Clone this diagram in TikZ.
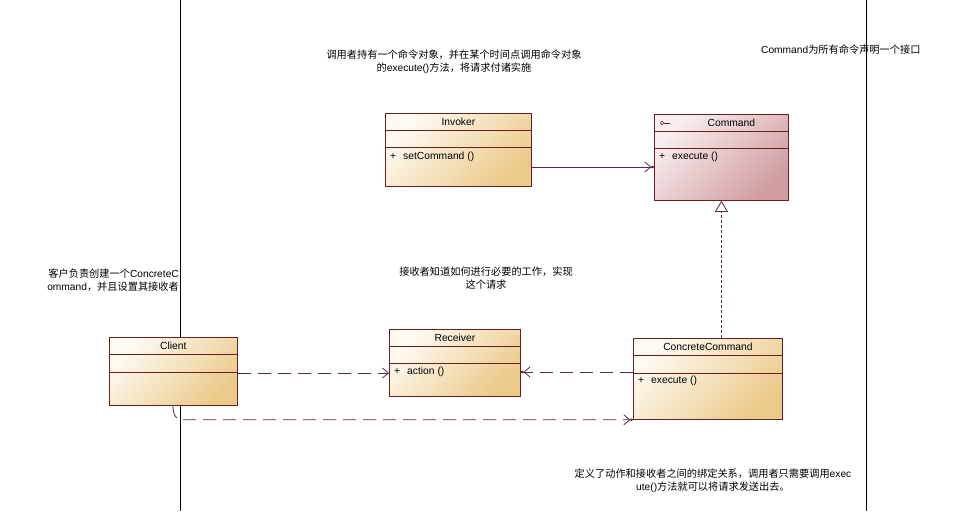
\documentclass[tikz,border=0pt]{standalone}
\usepackage{fontspec}
\setmainfont{Liberation Sans}
\newfontfamily\cjk{Noto Sans CJK SC}
\usepackage{tikz}
\usetikzlibrary{arrows.meta}
\usetikzlibrary{calc}
\usetikzlibrary{positioning}

\definecolor{umlborder}{HTML}{6A1E1E}
\definecolor{umllink}{HTML}{5E2750}
\definecolor{creamlight}{HTML}{FEFAF2}
\definecolor{creamdark}{HTML}{EBC989}
\definecolor{pinklight}{HTML}{F8EEEF}
\definecolor{pinkdark}{HTML}{D19DA1}

\begin{document}
\begin{tikzpicture}[x=1pt, y=-1pt, cls/.style={rectangle, draw=umlborder, line width=0.8pt, anchor=north west, inner sep=0pt, top color=creamlight, bottom color=creamdark, shading angle=45}, iface/.style={cls, top color=pinklight, bottom color=pinkdark, shading angle=45}, part/.style={draw=umlborder, line width=0.8pt}, title/.style={font=\fontsize{10.3}{12}\selectfont, inner sep=0pt}, member/.style={font=\fontsize{10.3}{12}\selectfont, inner sep=0pt, anchor=west}, note/.style={font=\fontsize{10.2}{13}\selectfont, inner sep=0pt, align=center}, link/.style={draw=umllink, line width=0.8pt}, assoc/.style={link, -{Straight Barb[length=6pt, width=10pt] Circle[length=2.6pt]}}, dep/.style={assoc, dash pattern=on 13pt off 7pt}, depopen/.style={link, dash pattern=on 13pt off 7pt, -{Straight Barb[length=6pt, width=10pt]}}, realize/.style={link, dash pattern=on 3pt off 2pt, -{Triangle[open, length=11pt, width=13pt, fill=white]}}, lane/.style={line width=0.8pt}]
\useasboundingbox (0,0) rectangle (955,511);
\draw [lane] (180,0) -- (180,511);
\draw [lane] (866,0) -- (866,511);
% classes
\node [cls, minimum width=146pt, minimum height=73pt] (invoker) at (385,113) {};
\node [title] at ($(invoker.north)+(0,9)$) {Invoker};
\draw [part] ($(invoker.north west)+(0,17)$) -- ($(invoker.north east)+(0,17)$);
\draw [part] ($(invoker.north west)+(0,34)$) -- ($(invoker.north east)+(0,34)$);
\node [member] at ($(invoker.north west)+(5,44)$) {+\hspace{7pt}setCommand ()};
\node [iface, minimum width=134pt, minimum height=86pt] (command) at (654,114) {};
\node [title] at ($(command.north)+(10,9)$) {Command};
\draw [part, line width=0.6pt] ($(command.north west)+(8,9)$) circle (1.8pt);
\draw [part, line width=0.6pt] ($(command.north west)+(9.8,9)$) -- ($(command.north west)+(16,9)$);
\draw [part] ($(command.north west)+(0,17)$) -- ($(command.north east)+(0,17)$);
\draw [part] ($(command.north west)+(0,34)$) -- ($(command.north east)+(0,34)$);
\node [member] at ($(command.north west)+(5,43)$) {+\hspace{7pt}execute ()};
\node [cls, minimum width=131pt, minimum height=67pt] (receiver) at (389,329) {};
\node [title] at ($(receiver.north)+(0,9)$) {Receiver};
\draw [part] ($(receiver.north west)+(0,17)$) -- ($(receiver.north east)+(0,17)$);
\draw [part] ($(receiver.north west)+(0,34)$) -- ($(receiver.north east)+(0,34)$);
\node [member] at ($(receiver.north west)+(5,43)$) {+\hspace{7pt}action ()};
\node [cls, minimum width=149pt, minimum height=81pt] (concrete) at (633,338) {};
\node [title] at ($(concrete.north)+(0,9)$) {ConcreteCommand};
\draw [part] ($(concrete.north west)+(0,17)$) -- ($(concrete.north east)+(0,17)$);
\draw [part] ($(concrete.north west)+(0,35)$) -- ($(concrete.north east)+(0,35)$);
\node [member] at ($(concrete.north west)+(5,43)$) {+\hspace{7pt}execute ()};
\node [cls, minimum width=128pt, minimum height=68pt] (client) at (109,337) {};
\node [title] at ($(client.north)+(0,9)$) {Client};
\draw [part] ($(client.north west)+(0,17)$) -- ($(client.north east)+(0,17)$);
\draw [part] ($(client.north west)+(0,35)$) -- ($(client.north east)+(0,35)$);
% connectors
\draw [assoc] ($(invoker.north east)+(0,54)$) -- ($(command.north west)+(0,53)$);
\draw [realize] (command.south |- concrete.north) -- (command.south);
\draw [dep] ($(concrete.north west)+(0,34)$) -- ($(receiver.north east)+(0,43)$);
\draw [depopen] ($(client.north east)+(0,36)$) -- ($(receiver.north west)+(0,44)$);
\draw [dep] ($(client.south west)+(64,0)$) .. controls +(0,10) and +(-4,0) .. ($(client.south west)+(72,14)$) -- (concrete.south west);
% notes
\node [note] (invokernote) at (454,62) {{\cjk 调用者持有一个命令对象，并在某个时间点调用命令对象}\\{\cjk 的}execute(){\cjk 方法，将请求付诸实施}};
\node [note, anchor=west] (commandnote) at (761,50) {Command{\cjk 为所有命令声明一个接口}};
\node [note, align=right, anchor=east] (clientnote) at (179,280) {{\cjk 客户负责创建一个}ConcreteC\\ommand{\cjk ，并且设置其接收者}};
\node [note] (receivernote) at (486,278) {{\cjk 接收者知道如何进行必要的工作，实现}\\{\cjk 这个请求}};
\node [note] (concretenote) at (713,481) {{\cjk 定义了动作和接收者之间的绑定关系，调用者只需要调用}exec\\ute(){\cjk 方法就可以将请求发送出去。}};
\end{tikzpicture}
\end{document}
